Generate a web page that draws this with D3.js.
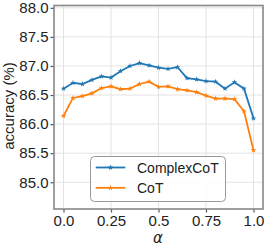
<!DOCTYPE html>
<html><head><meta charset="utf-8">
<script src="https://cdn.jsdelivr.net/npm/d3@7"></script>
<style>body{margin:0;background:#fff}svg{display:block}</style>
</head><body><svg id="c" width="266" height="248"></svg>
<script>
const alphas = [0,0.05,0.1,0.15,0.2,0.25,0.3,0.35,0.4,0.45,0.5,0.55,0.6,0.65,0.7,0.75,0.8,0.85,0.9,0.95,1.0];
const complexCoT = [86.61,86.71,86.69,86.76,86.82,86.80,86.91,87.00,87.05,87.01,86.97,86.95,86.98,86.79,86.77,86.74,86.73,86.61,86.72,86.61,86.10];
const coT = [86.14,86.45,86.48,86.53,86.62,86.65,86.60,86.61,86.69,86.73,86.64,86.65,86.60,86.58,86.55,86.49,86.44,86.44,86.43,86.22,85.55];
const xTicks = [0,0.25,0.5,0.75,1.0];
const xTickLabels = ["0.0","0.25","0.5","0.75","1.0"];
const yTicks = [85.0,85.5,86.0,86.5,87.0,87.5,88.0];
const seriesNames = ["ComplexCoT","CoT"];
const colors = ["#1f77b4","#ff7f0e"];

const svg = d3.select("#c");
const L=54,R=263,T=5.5,B=209;
const x = d3.scaleLinear().domain([-0.05,1.05]).range([L,R]);
const y = d3.scaleLinear().domain([84.54,88.04]).range([B,T]);
const font = "'Liberation Sans', Arial, sans-serif";

// grid
const g = svg.append("g");
g.selectAll(".gx").data(xTicks).join("line")
  .attr("x1",d=>x(d)).attr("x2",d=>x(d)).attr("y1",T).attr("y2",B)
  .attr("stroke","#e3e3e3").attr("stroke-width",1);
g.selectAll(".gy").data(yTicks).join("line")
  .attr("y1",d=>y(d)).attr("y2",d=>y(d)).attr("x1",L).attr("x2",R)
  .attr("stroke","#e3e3e3").attr("stroke-width",1);

// axes
const xAxis = d3.axisBottom(x).tickValues(xTicks).tickFormat((d,i)=>xTickLabels[i]).tickSize(3.5).tickPadding(3);
const yAxis = d3.axisLeft(y).tickValues(yTicks).tickFormat(d3.format(".1f")).tickSize(3.5).tickPadding(2);
const ax = svg.append("g").attr("transform",`translate(0,${B})`).call(xAxis);
const ay = svg.append("g").attr("transform",`translate(${L},0)`).call(yAxis);
[ax,ay].forEach(a=>{
  a.select(".domain").remove();
  a.selectAll(".tick line").attr("stroke","#555").attr("stroke-width",1.2);
  a.selectAll(".tick text").attr("font-family",font).attr("font-size",15).attr("fill","#222");
});

// lines
const data=[complexCoT,coT];
const line = d3.line().x((d,i)=>x(alphas[i])).y(d=>y(d));
data.forEach((s,k)=>{
  svg.append("path").datum(s).attr("d",line).attr("fill","none")
    .attr("stroke",colors[k]).attr("stroke-width",1.8);
  svg.selectAll(null).data(s).join("path")
    .attr("transform",(d,i)=>`translate(${x(alphas[i])},${y(d)})`)
    .attr("d",d3.symbol(d3.symbolStar,10)).attr("fill",colors[k]);
});

// frame
svg.append("rect").attr("x",L).attr("y",T).attr("width",R-L).attr("height",B-T)
  .attr("fill","none").attr("stroke","#888").attr("stroke-width",1.6);

// labels
svg.append("text").attr("transform",`translate(14,106) rotate(-90)`).attr("text-anchor","middle")
  .attr("font-family",font).attr("font-size",15).attr("fill","#222").text("accuracy (%)");
svg.append("text").attr("x",158).attr("y",243).attr("text-anchor","middle")
  .attr("font-family","'DejaVu Sans', sans-serif").attr("font-style","italic").attr("font-size",15).attr("fill","#222").text("α");

// legend
const lg = svg.append("g");
lg.append("rect").attr("x",90.5).attr("y",156.5).attr("width",135).attr("height",45).attr("rx",4)
  .attr("fill","rgba(255,255,255,0.85)").attr("stroke","#999").attr("stroke-width",1);
seriesNames.forEach((n,k)=>{
  const yy = 167.5 + k*20.3;
  lg.append("line").attr("x1",95.7).attr("x2",125.3).attr("y1",yy).attr("y2",yy)
    .attr("stroke",colors[k]).attr("stroke-width",1.8);
  lg.append("path").attr("transform",`translate(110.5,${yy})`).attr("d",d3.symbol(d3.symbolStar,10)).attr("fill",colors[k]);
  lg.append("text").attr("x",137).attr("y",yy+5).attr("font-family",font).attr("font-size",14)
    .attr("fill","#222").text(n);
});
</script></body></html>
